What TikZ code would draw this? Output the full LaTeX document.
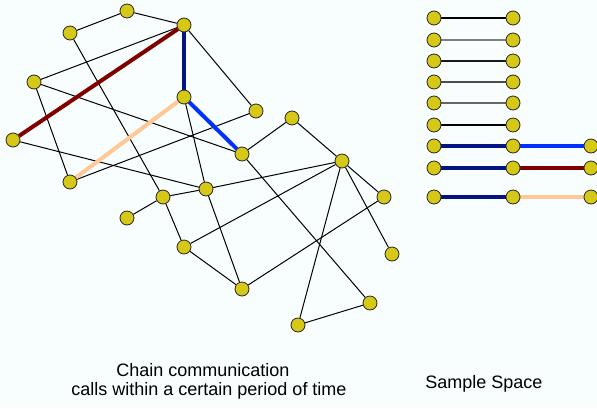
\documentclass[tikz,border=0pt]{standalone}
\usepackage{fontspec}
\setmainfont{Liberation Sans}
\pgfdeclarelayer{paper}
\pgfdeclarelayer{edges}
\pgfsetlayers{paper,edges,main}
\definecolor{paperbg}{RGB}{248,254,254}
\definecolor{vfill}{RGB}{213,200,22}
\definecolor{navyc}{RGB}{5,20,130}
\definecolor{bluec}{RGB}{0,50,255}
\definecolor{redc}{RGB}{128,0,0}
\definecolor{peachc}{RGB}{255,200,150}
\tikzset{
  vtx/.style={circle,draw=black!85,line width=0.8pt,fill=vfill,minimum size=14pt,inner sep=0pt},
  edge/.style={draw=black,line width=1pt},
  thickedge/.style={line width=4pt},
  sedge/.style={line width=1.3pt},
  ssedge/.style={line width=3.5pt},
  lbl/.style={font=\fontsize{18}{19}\selectfont,anchor=base,inner sep=0pt}
}
\begin{document}
\begin{tikzpicture}[x=1pt,y=-1pt]
\begin{pgfonlayer}{paper}
\fill[paperbg] (0,0) rectangle (597,408);
\end{pgfonlayer}
\useasboundingbox (0,0) rectangle (597,408);
% graph nodes
\node[vtx] (A) at (127,11) {};
\node[vtx] (B) at (184,25) {};
\node[vtx] (C) at (70,33) {};
\node[vtx] (D) at (34,82) {};
\node[vtx] (E) at (184,97) {};
\node[vtx] (F) at (256,111) {};
\node[vtx] (G) at (292,118) {};
\node[vtx] (H) at (13,140) {};
\node[vtx] (I) at (242,154) {};
\node[vtx] (J) at (70,182) {};
\node[vtx] (M) at (342,161) {};
\node[vtx] (K) at (206,189) {};
\node[vtx] (L) at (163,197) {};
\node[vtx] (N) at (384,197) {};
\node[vtx] (O) at (127,218) {};
\node[vtx] (P) at (184,247) {};
\node[vtx] (Q) at (392,254) {};
\node[vtx] (R) at (242,289) {};
\node[vtx] (S) at (370,303) {};
\node[vtx] (T) at (298,325) {};
\begin{pgfonlayer}{edges}
\foreach \a/\b in {A/C,A/B,B/D,B/F,C/L,D/I,D/J,H/K,E/K,J/F,I/G,I/S,G/M,M/K,M/P,M/N,M/Q,M/T,K/R,L/K,L/O,L/P,P/R,R/N,T/S}
  \draw[edge] (\a) -- (\b);
\draw[thickedge,redc] (B) -- (H);
\draw[thickedge,navyc] (B) -- (E);
\draw[thickedge,bluec] (E) -- (I);
\draw[thickedge,peachc] (E) -- (J);
\end{pgfonlayer}
% sample space
\foreach \i/\y/\c in {1/18/black,2/40/black!50,3/61/black!90,4/82/black!70,5/103/black!60,6/125/black}{
  \node[vtx] (sl\i) at (434,\y) {};
  \node[vtx] (sm\i) at (513,\y) {};
  \begin{pgfonlayer}{edges}\draw[sedge,\c] (sl\i) -- (sm\i);\end{pgfonlayer}
}
\foreach \i/\y/\c in {7/146/bluec,8/168/redc,9/197/peachc}{
  \node[vtx] (sl\i) at (434,\y) {};
  \node[vtx] (sm\i) at (513,\y) {};
  \node[vtx] (sr\i) at (591,\y) {};
  \begin{pgfonlayer}{edges}
  \draw[ssedge,navyc] (sl\i) -- (sm\i);
  \draw[ssedge,\c] (sm\i) -- (sr\i);
  \end{pgfonlayer}
}
% labels
\node[lbl] (t1) at (203,376) {Chain communication};
\node[lbl] (t2) at (209,395) {calls within a certain period of time};
\node[lbl] (t3) at (484,388) {Sample Space};
\end{tikzpicture}
\end{document}
